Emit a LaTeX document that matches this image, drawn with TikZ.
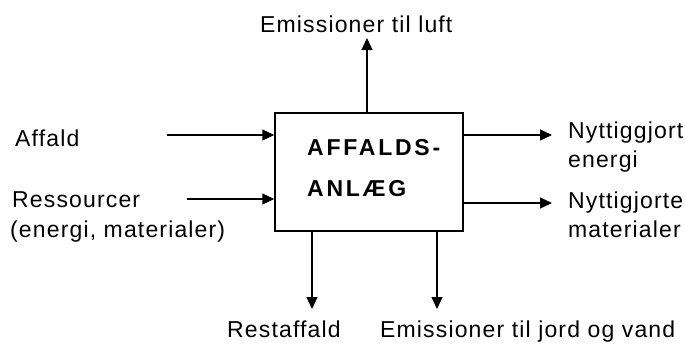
\documentclass[tikz,border=0pt]{standalone}
\usepackage{fontspec}
\setmainfont{Liberation Sans}
\usetikzlibrary{arrows.meta}

\begin{document}
\begin{tikzpicture}[x=1pt,y=-1pt,
  lbl/.style={inner sep=0pt, anchor=base west,
    font=\fontsize{23}{27}\selectfont\addfontfeature{LetterSpace=5}},
  boxlbl/.style={inner sep=0pt, anchor=base west,
    font=\fontsize{23}{27}\selectfont\bfseries\addfontfeature{LetterSpace=12}},
  flow/.style={line width=1.3pt, -{Triangle[length=12pt,width=11pt]}},
  plant/.style={draw, line width=1.5pt, minimum width=188pt, minimum height=118pt, inner sep=0pt}]

\useasboundingbox (0,0) rectangle (685,343);

% central process box
\node[plant] (box) at (369,172) {};
\node[boxlbl] (boxA) at (307,155) {AFFALDS-};
\node[boxlbl] (boxB) at (307,196) {ANLÆG};

% inputs
\node[lbl] (inWaste) at (15,146) {Affald};
\node[lbl] (inRes1) at (12,207) {Ressourcer};
\node[lbl] (inRes2) at (10,237) {(energi, materialer)};
\coordinate (inWasteStart) at (167,135);
\coordinate (inResStart) at (187,199);
\draw[flow] (inWasteStart) -- (inWasteStart -| box.west);
\draw[flow] (inResStart) -- (inResStart -| box.west);

% emission to air
\node[lbl] (outAir) at (260,32) {Emissioner til luft};
\coordinate (outAirEnd) at (367,38);
\draw[flow] (outAirEnd |- box.north) -- (outAirEnd);

% useful outputs
\node[lbl] (outEn1) at (568,138) {Nyttiggjort};
\node[lbl] (outEn2) at (568,167) {energi};
\node[lbl] (outMat1) at (568,208) {Nyttigjorte};
\node[lbl] (outMat2) at (568,237) {materialer};
\coordinate (outEnEnd) at (552,135);
\coordinate (outMatEnd) at (552,203);
\draw[flow] (outEnEnd -| box.east) -- (outEnEnd);
\draw[flow] (outMatEnd -| box.east) -- (outMatEnd);

% residues and emissions downwards
\node[lbl] (outRest) at (227,337) {Restaffald};
\node[lbl] (outSoil) at (380,337) {Emissioner til jord og vand};
\coordinate (outRestEnd) at (312,309);
\coordinate (outSoilEnd) at (437,309);
\draw[flow] (outRestEnd |- box.south) -- (outRestEnd);
\draw[flow] (outSoilEnd |- box.south) -- (outSoilEnd);

\end{tikzpicture}
\end{document}
